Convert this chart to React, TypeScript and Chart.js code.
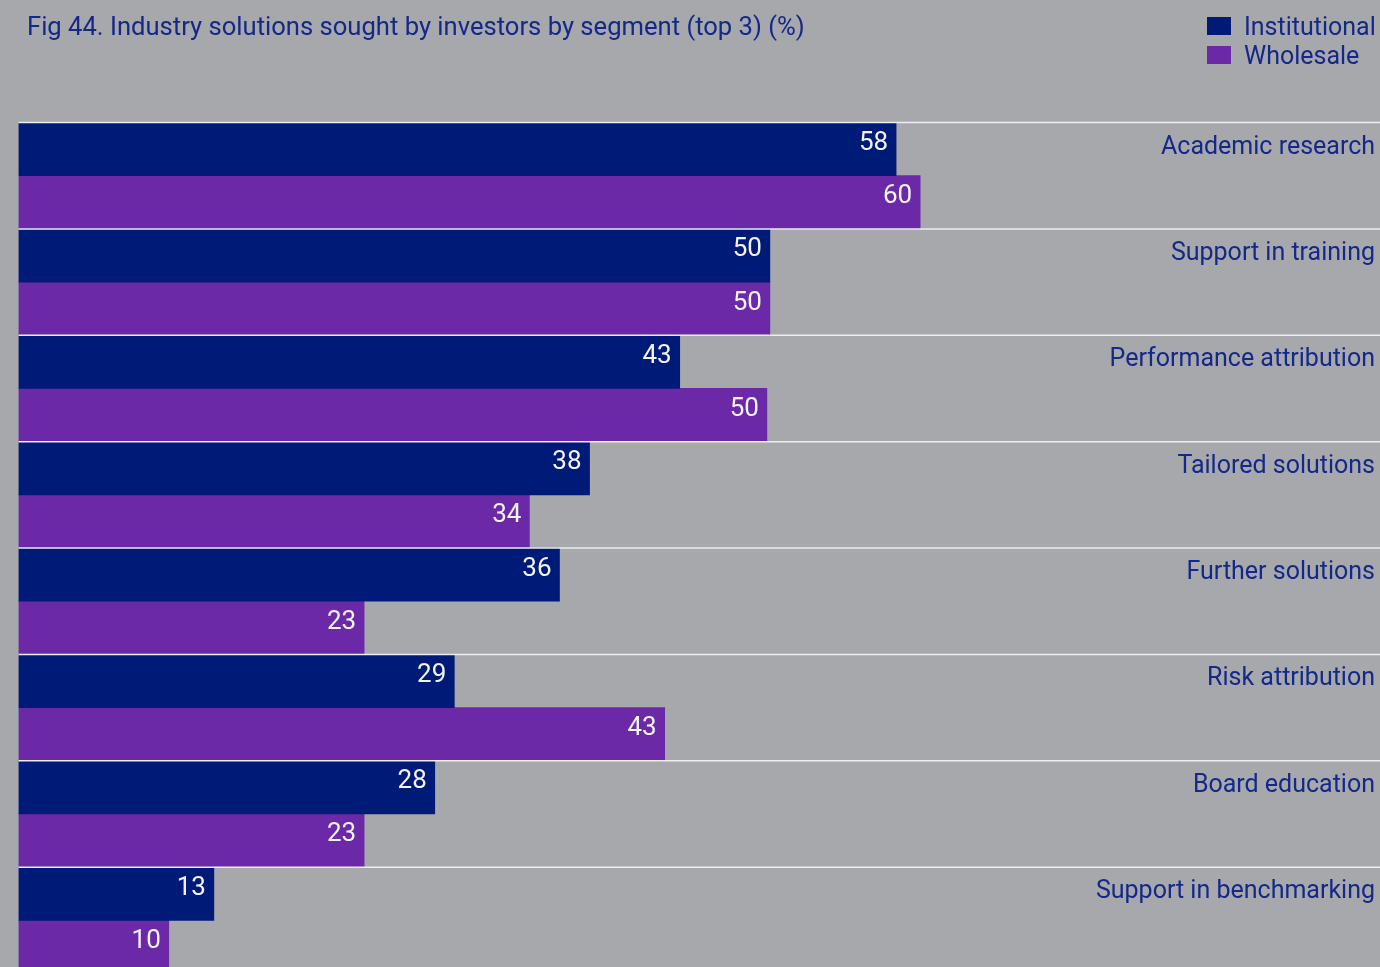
import React, { useEffect, useRef } from "react";
import { Chart, registerables } from "chart.js";

Chart.register(...registerables);

const TITLE = "Fig 44. Industry solutions sought by investors by segment (top 3) (%)";
const categories = [
  "Academic research",
  "Support in training",
  "Performance attribution",
  "Tailored solutions",
  "Further solutions",
  "Risk attribution",
  "Board education",
  "Support in benchmarking",
];
const seriesNames = ["Institutional", "Wholesale"];
// bar lengths as drawn in the source (unrounded)
const institutionalValues = [58.4, 50, 44, 38, 36, 29, 27.7, 13];
const wholesaleValues = [60, 50, 49.8, 34, 23, 43, 23, 10];
// printed labels (rounded)
const institutionalLabels = ["58", "50", "43", "38", "36", "29", "28", "13"];
const wholesaleLabels = ["60", "50", "50", "34", "23", "43", "23", "10"];

const BG = "#a7a8ab";
const NAVY = "#001a78";
const PURPLE = "#6b29a8";
const TEXT = "#14288a";
const FONT = "Roboto, 'Noto Sans', sans-serif";

const overlayPlugin = {
  id: "overlay",
  afterDatasetsDraw(chart: any) {
    const { ctx, chartArea } = chart;
    const n = categories.length;
    const h = (chartArea.bottom - chartArea.top) / n;
    ctx.save();
    // separators
    ctx.strokeStyle = "#eeeef0";
    ctx.lineWidth = 1.5;
    for (let i = 0; i <= n; i++) {
      const y = chartArea.top + i * h;
      ctx.beginPath();
      ctx.moveTo(chartArea.left, y);
      ctx.lineTo(chart.width, y);
      ctx.stroke();
    }
    // value labels
    ctx.font = `26px ${FONT}`;
    ctx.fillStyle = "#f4f4f6";
    ctx.textAlign = "right";
    ctx.textBaseline = "alphabetic";
    const labelSets = [institutionalLabels, wholesaleLabels];
    chart.data.datasets.forEach((_: any, di: number) => {
      const meta = chart.getDatasetMeta(di);
      meta.data.forEach((bar: any, i: number) => {
        const top = bar.y - bar.height / 2;
        ctx.fillText(labelSets[di][i], bar.x - 8, top + 27.5);
      });
    });
    // category labels
    ctx.fillStyle = TEXT;
    ctx.font = `25px ${FONT}`;
    categories.forEach((c, i) => {
      const top = chartArea.top + i * h;
      ctx.fillText(c, chart.width - 5, top + 31);
    });
    // title
    ctx.textAlign = "left";
    ctx.font = `25.6px ${FONT}`;
    ctx.fillText(TITLE, 27, 35);
    // legend
    ctx.font = `25px ${FONT}`;
    const colors = [NAVY, PURPLE];
    seriesNames.forEach((s, i) => {
      const y = 17 + i * 29;
      ctx.fillStyle = colors[i];
      ctx.fillRect(1207, y, 24, 18);
      ctx.fillStyle = TEXT;
      ctx.fillText(s, 1244, y + 18);
    });
    ctx.restore();
  },
};

export default function App() {
  const ref = useRef<HTMLCanvasElement>(null);
  useEffect(() => {
    if (!ref.current) return;
    const chart = new Chart(ref.current, {
      type: "bar",
      data: {
        labels: categories,
        datasets: [
          { label: seriesNames[0], data: institutionalValues, backgroundColor: NAVY, borderWidth: 0 },
          { label: seriesNames[1], data: wholesaleValues, backgroundColor: PURPLE, borderWidth: 0 },
        ],
      },
      options: {
        indexAxis: "y",
        animation: false,
        responsive: false,
        maintainAspectRatio: false,
        datasets: { bar: { barPercentage: 1, categoryPercentage: 1 } },
        layout: { padding: { top: 122.5, left: 18.5, right: 0, bottom: 980 - 973.5 } },
        scales: {
          x: { type: "linear", min: 0, max: 90.6, display: false },
          y: { type: "category", display: false },
        },
        plugins: { legend: { display: false }, title: { display: false }, tooltip: { enabled: false } },
      },
      plugins: [overlayPlugin],
    });
    return () => chart.destroy();
  }, []);
  return (
    <div
      style={{
        position: "fixed",
        left: 0,
        top: 0,
        width: 1380,
        height: 967,
        overflow: "hidden",
        background: BG,
      }}
    >
      <canvas ref={ref} width={1380} height={980} style={{ display: "block", width: 1380, height: 980 }} />
    </div>
  );
}
